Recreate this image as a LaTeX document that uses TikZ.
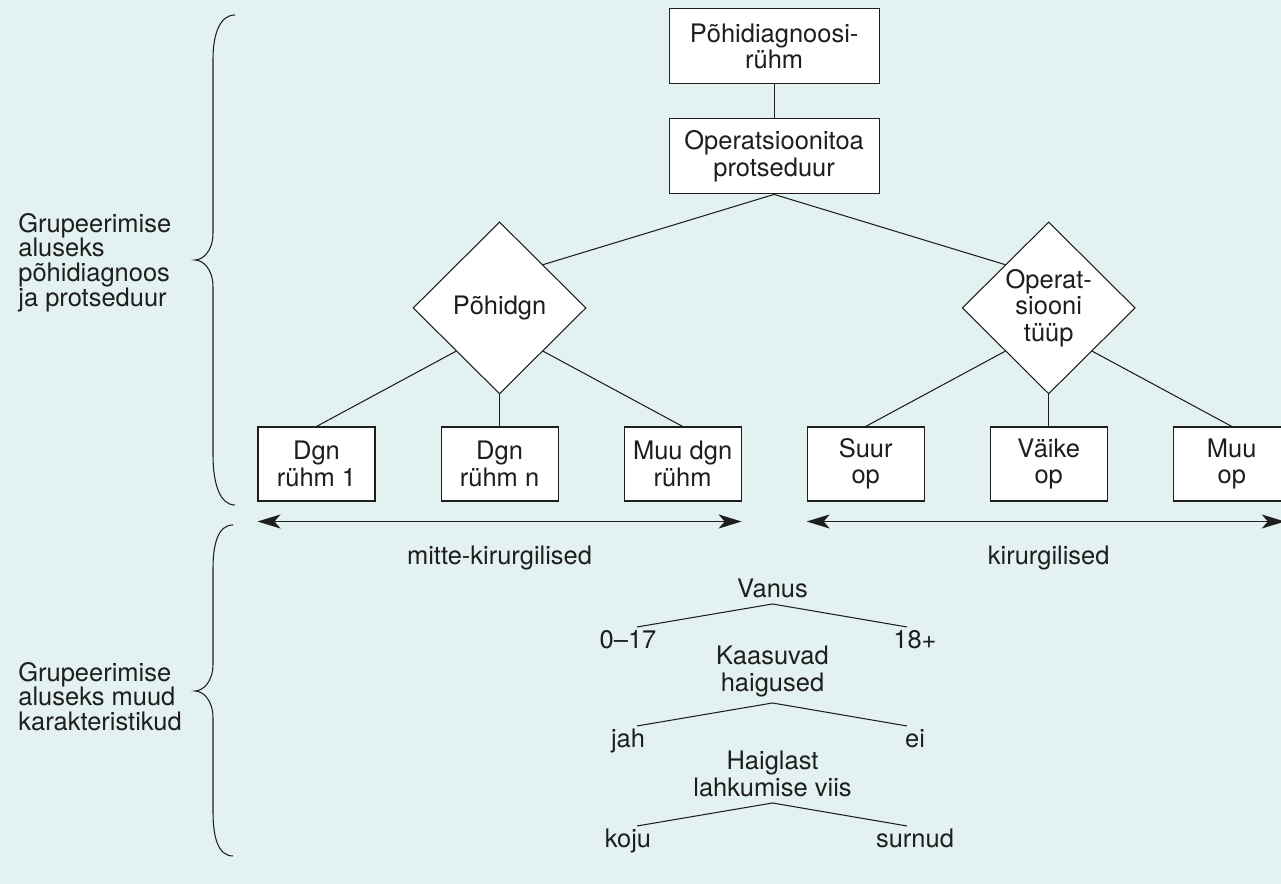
\documentclass[tikz,border=0pt]{standalone}
\usepackage{fontspec}
\setmainfont{TeX Gyre Heros}
\usetikzlibrary{positioning,shapes.geometric,arrows.meta,calc}

\definecolor{bgcol}{RGB}{228,241,241}
\definecolor{inkcol}{RGB}{30,30,30}

\begin{document}
\begin{tikzpicture}[
  every node/.style={font=\fontsize{14.5}{15}\selectfont, text=inkcol},
  box/.style={draw=inkcol, fill=white, line width=0.6pt, minimum width=2.34cm, minimum height=1.48cm, align=center, inner sep=1pt},
  bigbox/.style={box, minimum width=4.2cm, minimum height=1.5cm},
  choice/.style={diamond, draw=inkcol, fill=white, line width=0.6pt, minimum width=3.46cm, minimum height=3.44cm, inner sep=0pt, align=center},
  link/.style={draw=inkcol, line width=0.6pt},
  rangearrow/.style={draw=inkcol, line width=0.7pt, {Stealth[length=0.46cm,width=0.28cm,inset=0.12cm]}-{Stealth[length=0.46cm,width=0.28cm,inset=0.12cm]}},
  sidetext/.style={anchor=west, align=left, inner sep=0pt, font=\fontsize{14.5}{14}\selectfont},
  crit/.style={align=center, inner sep=0pt, anchor=south}
]
  \fill[bgcol] (0,0) rectangle (25.62,17.68);
  \useasboundingbox (0,0) rectangle (25.62,17.68);

  % leaf groups
  \node[box] (b1) at (6.33,8.40) {Dgn\\rühm 1};
  \node[box, right=1.3cm of b1] (b2) {Dgn\\rühm n};
  \node[box, right=1.3cm of b2] (b3) {Muu dgn\\rühm};
  \node[box, right=1.3cm of b3] (b4) {Suur\\op};
  \node[box, right=1.3cm of b4] (b5) {Väike\\op};
  \node[box, right=1.3cm of b5] (b6) {Muu\\op};

  % decisions
  \node[choice, above=0.64cm of b2] (dl) {Põhidgn};
  \node[choice, above=0.64cm of b5] (dr) {Operat-\\siooni\\tüüp};

  \coordinate (mid) at ($(b3.north)!0.5!(b4.north)$);
  \coordinate (optop) at (mid |- dl.north);
  \node[bigbox, above=0.54cm of optop] (op) {Operatsioonitoa\\protseduur};
  \node[bigbox, above=0.68cm of op] (pdg) {Põhidiagnoosi-\\rühm};

  \path[link]
  (pdg) edge (op)
  (op.south) edge (dl.north east)
             edge (dr.north west)
  (dl.south west) edge (b1.north)
  (dl) edge (b2)
  (dl.south east) edge (b3.north)
  (dr.south west) edge (b4.north)
  (dr) edge (b5)
  (dr.south east) edge (b6.north);

  \draw[rangearrow] ([yshift=-0.4cm]b1.south west) -- ([yshift=-0.4cm]b3.south east)
    node[midway, yshift=-0.72cm] (nonsurg) {mitte-kirurgilised};
  \draw[rangearrow, shorten >=0.12cm] ([yshift=-0.4cm]b4.south west) -- ([yshift=-0.4cm]b6.south east)
    node[midway, yshift=-0.72cm] (surg) {kirurgilised};

  % other criteria
  \foreach \n/\y/\head/\lft/\rgt in {age/5.60/Vanus/0–17/18+, cmb/3.62/{Kaasuvad\\haigused}/jah/ei, dis/1.62/{Haiglast\\lahkumise viis}/koju/surnud}
  {
    \node[crit] (\n) at (15.45,\y+0.12) {\head};
    \coordinate (\n-a) at (15.45,\y);
    \coordinate (\n-la) at (12.74,\y-0.46);
    \coordinate (\n-ra) at (18.14,\y-0.46);
    \node[anchor=base, inner sep=0pt] (\n-l) at (12.56,\y-0.90) {\lft};
    \node[anchor=base, inner sep=0pt] (\n-r) at (18.30,\y-0.90) {\rgt};
    \draw[link] (\n-la) -- (\n-a) -- (\n-ra);
  }

  % braces
  \draw[inkcol, line width=0.6pt] (4.70,17.38) .. controls (4.40,17.38) and (4.26,17.0) .. (4.26,16.5)
    -- (4.26,13.02) .. controls (4.26,12.65) and (4.05,12.48) .. (3.90,12.48)
    .. controls (4.05,12.48) and (4.26,12.31) .. (4.26,11.94)
    -- (4.26,8.58) .. controls (4.26,8.0) and (4.40,7.58) .. (4.70,7.58);
  \draw[inkcol, line width=0.6pt] (4.66,7.18) .. controls (4.36,7.18) and (4.26,6.8) .. (4.26,6.3)
    -- (4.26,4.40) .. controls (4.26,4.03) and (4.05,3.86) .. (3.90,3.86)
    .. controls (4.05,3.86) and (4.26,3.69) .. (4.26,3.32)
    -- (4.26,1.44) .. controls (4.26,0.94) and (4.36,0.56) .. (4.66,0.56);

  \node[sidetext] (basisA) at (0.36,12.43) {Grupeerimise\\aluseks\\põhidiagnoos\\ja protseduur};
  \node[sidetext] (basisB) at (0.36,3.75) {Grupeerimise\\aluseks muud\\karakteristikud};
\end{tikzpicture}
\end{document}
